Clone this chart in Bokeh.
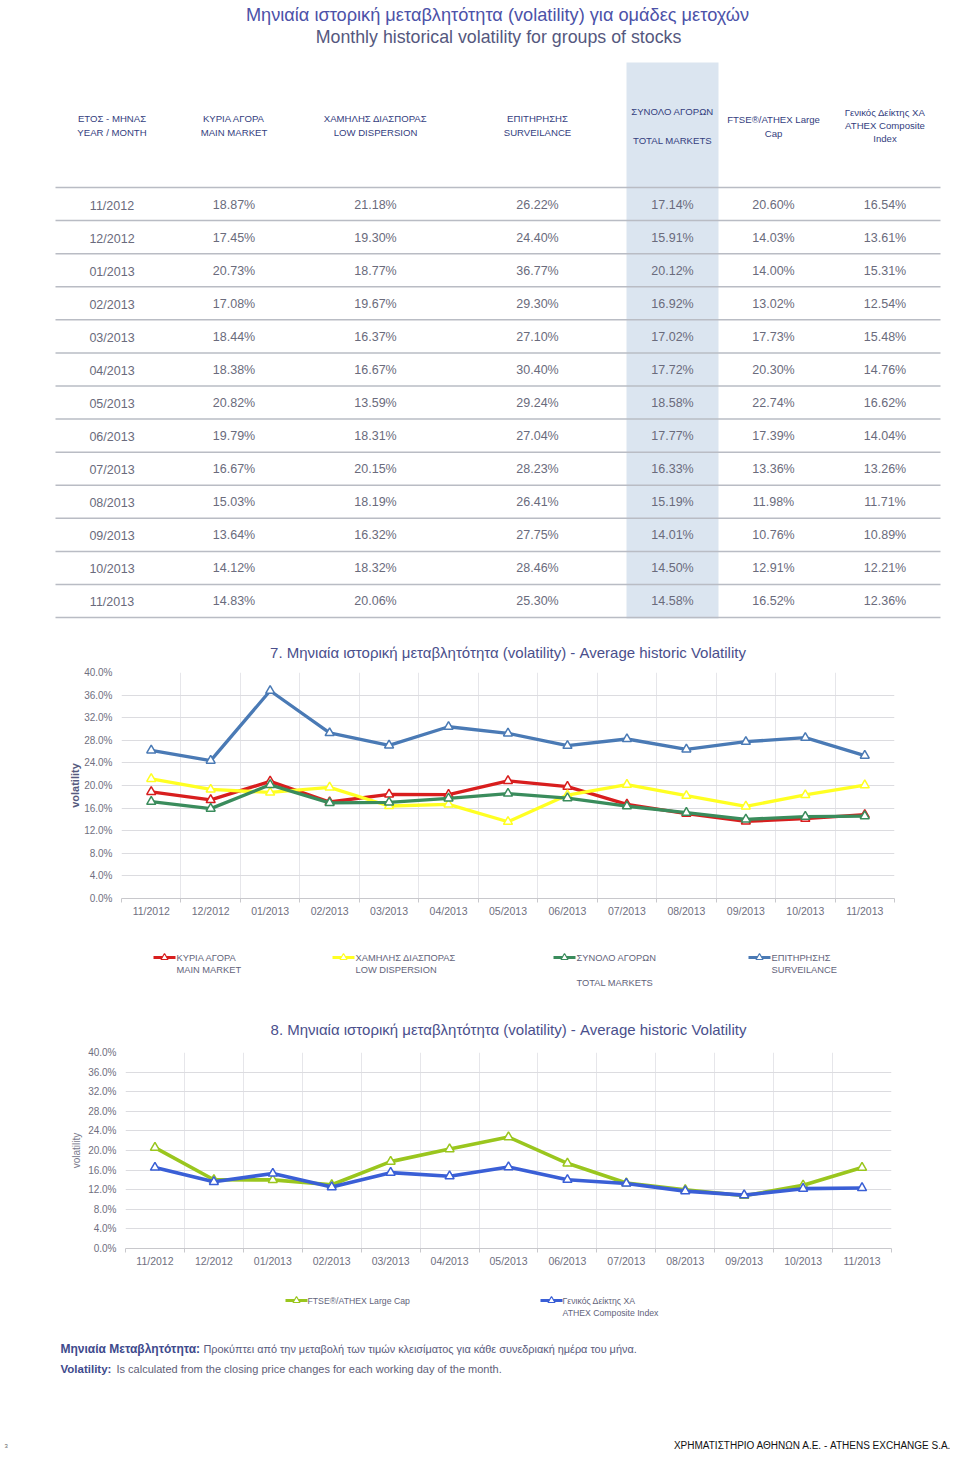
from bokeh.plotting import figure
from bokeh.layouts import column
from bokeh.models import Range1d, FixedTicker, NumeralTickFormatter
from bokeh.core.properties import value
from bokeh.embed import file_html
from bokeh.resources import INLINE

# ---------------- data ----------------
months = ["11/2012", "12/2012", "01/2013", "02/2013", "03/2013", "04/2013", "05/2013",
          "06/2013", "07/2013", "08/2013", "09/2013", "10/2013", "11/2013"]
main_market = [18.87, 17.45, 20.73, 17.08, 18.44, 18.38, 20.82, 19.79, 16.67, 15.03, 13.64, 14.12, 14.83]
low_dispersion = [21.18, 19.30, 18.77, 19.67, 16.37, 16.67, 13.59, 18.31, 20.15, 18.19, 16.32, 18.32, 20.06]
surveillance = [26.22, 24.40, 36.77, 29.30, 27.10, 30.40, 29.24, 27.04, 28.23, 26.41, 27.75, 28.46, 25.30]
total_markets = [17.14, 15.91, 20.12, 16.92, 17.02, 17.72, 18.58, 17.77, 16.33, 15.19, 14.01, 14.50, 14.58]
ftse_large_cap = [20.60, 14.03, 14.00, 13.02, 17.73, 20.30, 22.74, 17.39, 13.36, 11.98, 10.76, 12.91, 16.52]
composite_index = [16.54, 13.61, 15.31, 12.54, 15.48, 14.76, 16.62, 14.04, 13.26, 11.71, 10.89, 12.21, 12.36]
y_ticks = [0, 4, 8, 12, 16, 20, 24, 28, 32, 36, 40]

title_gr = "Μηνιαία ιστορική μεταβλητότητα (volatility) για ομάδες μετοχών"
title_en = "Monthly historical volatility for groups of stocks"
headers = [
    ["ΕΤΟΣ - ΜΗΝΑΣ", "YEAR / MONTH"],
    ["ΚΥΡΙΑ ΑΓΟΡΑ", "MAIN MARKET"],
    ["ΧΑΜΗΛΗΣ ΔΙΑΣΠΟΡΑΣ", "LOW DISPERSION"],
    ["ΕΠΙΤΗΡΗΣΗΣ", "SURVEILANCE"],
    ["ΣΥΝΟΛΟ ΑΓΟΡΩΝ", "", "TOTAL MARKETS"],
    ["FTSE®/ATHEX Large", "Cap"],
    ["Γενικός Δείκτης ΧΑ", "ATHEX Composite", "Index"],
]
chart1_title = "7. Μηνιαία ιστορική μεταβλητότητα (volatility) - Average historic Volatility"
chart2_title = "8. Μηνιαία ιστορική μεταβλητότητα (volatility) - Average historic Volatility"
legend1_labels = [["ΚΥΡΙΑ ΑΓΟΡΑ", "MAIN MARKET"],
                  ["ΧΑΜΗΛΗΣ ΔΙΑΣΠΟΡΑΣ", "LOW DISPERSION"],
                  ["ΣΥΝΟΛΟ ΑΓΟΡΩΝ", "", "TOTAL MARKETS"],
                  ["ΕΠΙΤΗΡΗΣΗΣ", "SURVEILANCE"]]
legend2_labels = [["FTSE®/ATHEX Large Cap"],
                  ["Γενικός Δείκτης ΧΑ", "ATHEX Composite Index"]]
note_gr_bold = "Μηνιαία Μεταβλητότητα:"
note_gr = "Προκύπτει από την μεταβολή των τιμών κλεισίματος για κάθε συνεδριακή ημέρα του μήνα."
note_en_bold = "Volatility:"
note_en = "Is calculated from the closing price changes for each working day of the month."
footer = "ΧΡΗΜΑΤΙΣΤΗΡΙΟ ΑΘΗΝΩΝ Α.Ε. - ATHENS EXCHANGE S.A."
page_no = "3"

# ---------------- styles ----------------
SANS = "Liberation Sans, Arial, sans-serif"
W = 952
C_RED, C_YEL, C_GRN, C_BLU = "#d81e1e", "#ffff22", "#3a8c5c", "#4a7ab5"
C_LIME, C_BLU2 = "#9ac61e", "#3a5fd6"


def page_fig(y0, y1):
    p = figure(width=W, height=y1 - y0, x_range=Range1d(0, W), y_range=Range1d(y1, y0),
               x_axis_type=None, y_axis_type=None, toolbar_location=None,
               output_backend="svg", min_border=0, outline_line_color=None,
               frame_align=False)
    return p


def txt(p, x, y, t, size, color, font=SANS, align="left", style="normal"):
    p.text(x=[x], y=[y], text=[t], text_font=value(font), text_font_size=size,
           text_color=color, text_align=align, text_baseline="middle", text_font_style=style)


# ---------------- table ----------------
top = page_fig(0, 624)
txt(top, 497, 14, title_gr, "18.2px", "#4c52a8", SANS, "center")
txt(top, 498, 36, title_en, "17.8px", "#55587e", SANS, "center")
top.quad(left=[626], right=[718], top=[62], bottom=[618], fill_color="#dbe5f0", line_color=None)

col_x = [111.5, 233.5, 375, 537, 672, 773, 884.5]
hdr_y0 = [118, 118, 118, 118, 110.5, 119, 112]
hdr_lh = [14, 13.5, 13.5, 14, 14.5, 13.5, 13]
for c, lines in enumerate(headers):
    for k, line in enumerate(lines):
        if line:
            txt(top, col_x[c], hdr_y0[c] + k * hdr_lh[c], line, "9.6px", "#34407e", SANS, "center")

row_top, row_h = 187, 33.08
ys = [row_top + row_h * k for k in range(len(months) + 1)]
top.segment(x0=[55] * len(ys), y0=ys, x1=[940] * len(ys), y1=ys, line_color="#b9bcc4", line_width=1.5)

table_cols = [months, main_market, low_dispersion, surveillance, total_markets, ftse_large_cap, composite_index]
for c, col in enumerate(table_cols):
    labels = col if c == 0 else ["%.2f%%" % v for v in col]
    yy = [row_top + row_h * i + (18 if c == 0 else 17) for i in range(len(col))]
    top.text(x=[col_x[c]] * len(col), y=yy, text=labels, text_font=value(SANS),
             text_font_size="12.5px", text_color="#6a6b7c", text_align="center", text_baseline="middle")


# ---------------- charts ----------------
def chart(height, left, right, top_b, bottom, title, standoff, bold_label, label_color, label_standoff):
    p = figure(width=W, height=height, x_range=Range1d(-0.5, 12.5), y_range=Range1d(0, 0.40),
               toolbar_location=None, output_backend="svg",
               min_border_left=left, min_border_right=right, min_border_top=top_b,
               min_border_bottom=bottom, outline_line_color=None, frame_align=False)
    p.title.text = title
    p.title.align = "center"
    p.title.text_font = SANS
    p.title.text_font_size = "15px"
    p.title.text_font_style = "normal"
    p.title.text_color = "#4a4f8c"
    p.title.standoff = standoff
    p.yaxis.ticker = FixedTicker(ticks=[t / 100 for t in y_ticks])
    p.yaxis.formatter = NumeralTickFormatter(format="0.0%")
    p.yaxis.axis_line_color = None
    p.yaxis.major_tick_line_color = None
    p.yaxis.major_tick_out = 0
    p.yaxis.minor_tick_line_color = None
    p.yaxis.major_label_standoff = 9
    p.yaxis.axis_label = "volatility"
    p.yaxis.axis_label_text_font = SANS
    p.yaxis.axis_label_text_font_size = "11px" if bold_label else "10px"
    p.yaxis.axis_label_text_font_style = "bold" if bold_label else "normal"
    p.yaxis.axis_label_text_color = label_color
    p.yaxis.axis_label_standoff = label_standoff
    bounds = [i - 0.5 for i in range(len(months) + 1)]
    p.xaxis.ticker = FixedTicker(ticks=list(range(len(months))), minor_ticks=bounds)
    p.xaxis.major_label_overrides = {i: m for i, m in enumerate(months)}
    p.xaxis.axis_line_color = "#c8c8cc"
    p.xaxis.major_tick_line_color = None
    p.xaxis.major_tick_out = 0
    p.xaxis.minor_tick_line_color = "#c8c8cc"
    p.xaxis.minor_tick_in = 0
    p.xaxis.minor_tick_out = 4
    p.xaxis.major_label_standoff = 2
    p.yaxis.major_label_text_font_size = "10px"
    p.xaxis.major_label_text_font_size = "10.5px"
    for ax in (p.xaxis, p.yaxis):
        ax.major_label_text_font = SANS
        ax.major_label_text_color = "#6f6f80"
    p.xgrid.ticker = FixedTicker(ticks=bounds)
    p.xgrid.grid_line_color = "#e6e6ea"
    p.ygrid.grid_line_color = "#dcdce0"
    return p


xi = list(range(len(months)))
c1 = chart(311, 121, 58, 48, 37, chart1_title, 24, True, "#565a7e", 0)
for series, color in [(main_market, C_RED), (low_dispersion, C_YEL), (total_markets, C_GRN), (surveillance, C_BLU)]:
    yv = [v / 100 for v in series]
    c1.line(xi, yv, line_color=color, line_width=3.3)
    c1.scatter(xi, yv, marker="triangle", size=9, fill_color="white", line_color=color, line_width=1.5)

c2 = chart(285, 125, 61, 52, 37, chart2_title, 30, False, "#7a7a8c", 3)
for series, color in [(ftse_large_cap, C_LIME), (composite_index, C_BLU2)]:
    yv = [v / 100 for v in series]
    c2.line(xi, yv, line_color=color, line_width=3.6)
    c2.scatter(xi, yv, marker="triangle", size=9, fill_color="white", line_color=color, line_width=1.5)

# ---------------- legends ----------------
leg1 = page_fig(935, 1000)
leg1_x = [153, 332, 553, 748]
leg1_colors = [C_RED, C_YEL, C_GRN, C_BLU]
for x0, labels, color in zip(leg1_x, legend1_labels, leg1_colors):
    leg1.segment(x0=[x0], y0=[957], x1=[x0 + 22], y1=[957], line_color=color, line_width=3)
    leg1.scatter(x=[x0 + 11], y=[957], marker="triangle", size=7, fill_color="white", line_color=color, line_width=1.2)
    for k, line in enumerate(labels):
        if line:
            txt(leg1, x0 + 23, 957 + 12.5 * k, line, "9.3px", "#62637a", SANS)

bot = page_fig(1285, 1452)
leg2_x = [285, 540]
for x0, labels, color in zip(leg2_x, legend2_labels, [C_LIME, C_BLU2]):
    bot.segment(x0=[x0], y0=[1300], x1=[x0 + 22], y1=[1300], line_color=color, line_width=3)
    bot.scatter(x=[x0 + 11], y=[1300], marker="triangle", size=7, fill_color="white", line_color=color, line_width=1.2)
    for k, line in enumerate(labels):
        txt(bot, x0 + 22, 1300 + 12 * k, line, "8.7px", "#62637a", SANS)

txt(bot, 60, 1348, note_gr_bold, "12px", "#3e4a8c", SANS, style="bold")
txt(bot, 203, 1348, note_gr, "10.9px", "#585a7c", SANS)
txt(bot, 60, 1368, note_en_bold, "11.5px", "#3e4a8c", SANS, style="bold")
txt(bot, 116, 1368, note_en, "11px", "#5e6078", SANS)
txt(bot, 951, 1445, footer, "10px", "#111111", SANS, "right")
txt(bot, 4, 1445, page_no, "6px", "#666666", SANS)

layout = column(top, c1, leg1, c2, bot, spacing=0)
open("out.html", "w").write(file_html(layout, INLINE))
